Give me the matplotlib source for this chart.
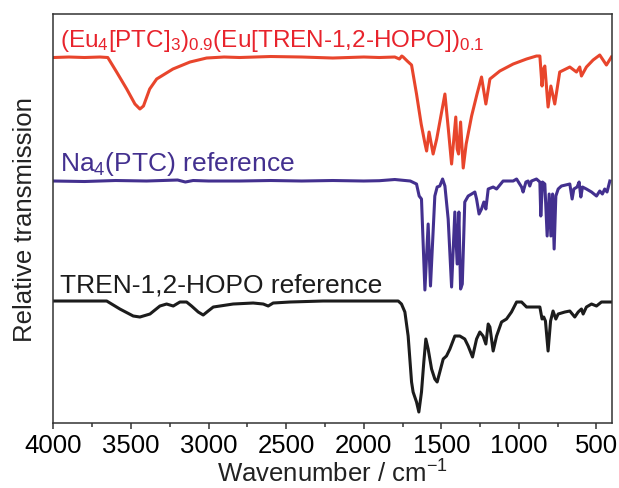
import numpy as np
import matplotlib
matplotlib.use("Agg")
import matplotlib.pyplot as plt

plt.rcParams['font.family'] = ['Liberation Sans', 'DejaVu Sans']
plt.rcParams['mathtext.default'] = 'regular'

# (Eu4[PTC]3)0.9(Eu[TREN-1,2-HOPO])0.1 -- relative to its own baseline
wn_eu = [4000, 3900, 3800, 3700, 3650, 3593, 3528, 3475, 3443, 3420, 3380, 3335, 3230, 3120,
         3013, 2900, 2800, 2600, 2400, 2200, 2000, 1900, 1800, 1770, 1755, 1746, 1720, 1692,
         1660, 1630, 1605, 1595, 1579, 1553, 1530, 1477, 1455, 1434, 1407, 1398, 1389, 1376,
         1359, 1340, 1305, 1270, 1241, 1213, 1187, 1123, 1037, 951, 887, 865, 851, 842, 833,
         812, 794, 769, 737, 672, 629, 608, 597, 565, 522, 479, 436, 404]
t_eu = [-0.5, 0, -0.5, 0, -0.5, -15, -32, -47, -52, -49, -32, -22, -12, -5,
        -1, 0, -0.5, 0.5, 0, -1, 0, -0.5, 0, -2, 1, 0, -4, -8,
        -37, -67, -87, -94, -75, -97, -82, -37, -72, -107, -60, -92, -97, -65,
        -111, -87, -59, -37, -20, -47, -22, -14, -7, -2, 1, 1, -29, -12, -9,
        -50, -29, -47, -15, -10, -15, -10, -19, -10, -3, 2, -8, 0]

# Na4(PTC) reference
wn_na = [4000, 3800, 3600, 3400, 3200, 3150, 3100, 3000, 2800, 2600, 2400, 2200, 2000, 1900,
         1800, 1700, 1660, 1643, 1628, 1606, 1585, 1570, 1542, 1527, 1510, 1492, 1477, 1456,
         1434, 1413, 1398, 1387, 1376, 1365, 1349, 1327, 1305, 1284, 1273, 1257, 1241, 1226,
         1213, 1198, 1166, 1144, 1102, 1037, 1015, 983, 973, 955, 941, 930, 919, 887, 865,
         859, 848, 833, 818, 805, 794, 783, 773, 762, 747, 726, 672, 657, 646, 625, 612, 601,
         590, 565, 532, 500, 479, 462, 447, 432, 414]
t_na = [0, -0.5, 0.5, 0, 1, -1, 0.5, 0, 0, 0.5, 0, 0.5, 0, 0.3,
        1.5, 0, -3, -15, -18, -109, -43, -105, -15, -6, -5, 2, -5, -38,
        -106, -31, -83, -31, -108, -103, -21, -15, -13, -11, -18, -33, -28, -21,
        -28, -8, -6, -8, 0, 0, 2, -6, -11, -1, 0, -5, 0, 2, -1,
        -35, -1, -3, -55, -13, -55, -13, -68, -15, -8, -5, -3, -18, -8, -6, -1, -16,
        -6, -8, -11, -15, -10, -13, -8, -11, 0]

# TREN-1,2-HOPO reference
wn_hopo = [4000, 3800, 3657, 3572, 3486, 3443, 3378, 3314, 3271, 3228, 3185, 3142, 3110, 3067,
           3035, 3003, 2970, 2927, 2842, 2713, 2648, 2616, 2584, 2476, 2263, 1939, 1896, 1778,
           1757, 1735, 1714, 1692, 1682, 1660, 1645, 1628, 1613, 1600, 1585, 1563, 1542, 1527,
           1510, 1488, 1467, 1445, 1413, 1381, 1349, 1327, 1299, 1273, 1252, 1231, 1213, 1198,
           1187, 1166, 1144, 1112, 1080, 1048, 1015, 983, 951, 909, 865, 851, 840, 829, 812,
           796, 780, 762, 747, 704, 672, 640, 618, 597, 586, 565, 532, 500, 468, 436, 404]
t_hopo = [0, 0, 0, -8, -15, -16, -13, -5, -3, -5, -1, -1, -5, -11,
          -14, -10, -6, -5, -3, -2, -3, -5, -2, -1, 0, 0, 0, 0,
          -3, -11, -35, -81, -91, -101, -111, -91, -61, -38, -48, -68, -78, -81,
          -71, -58, -55, -48, -35, -35, -38, -45, -56, -38, -31, -35, -43, -23,
          -26, -50, -35, -21, -18, -11, -1, -1, -6, -6, -6, -18, -16, -20, -50,
          -20, -10, -18, -13, -11, -10, -16, -11, -8, -13, -6, -3, -5, -1, -1, -1]

labels = [r'(Eu$_4$[PTC]$_3$)$_{0.9}$(Eu[TREN-1,2-HOPO])$_{0.1}$',
          r'Na$_4$(PTC) reference',
          'TREN-1,2-HOPO reference']
line_colors = ['#e8452c', '#43308f', '#1c1c1c']
text_colors = ['#e8232c', '#43308f', '#1c1c1c']
label_sizes = [17.5, 19, 19]

fig = plt.figure(figsize=(6.19, 4.89), dpi=100)
ax = fig.add_axes([0.0864, 0.1329, 0.9023, 0.8364])

offsets = [366, 242, 122]
label_y = [377, 253, 132]
spectra = [(wn_eu, t_eu), (wn_na, t_na), (wn_hopo, t_hopo)]
for (wn, t), off, col, tcol, lab, ly, fs in zip(spectra, offsets, line_colors, text_colors,
                                                labels, label_y, label_sizes):
    ax.plot(wn, np.array(t) + off, color=col, lw=2.2, solid_joinstyle='round')
    ax.text(3958, ly, lab, color=tcol, fontsize=fs, va='baseline', ha='left')

ax.set_xlim(4000, 400)
ax.set_ylim(0, 409)
ax.set_yticks([])
ax.set_xticks([4000, 3500, 3000, 2500, 2000, 1500, 1000, 500])
ax.set_xticks(np.arange(3750, 400, -500), minor=True)
ax.tick_params(axis='x', which='major', direction='out', length=4, width=1.1,
               labelsize=18.5, pad=3, color='#333333')
ax.tick_params(axis='x', which='minor', direction='out', length=3, width=1.1, color='#333333')
for s in ax.spines.values():
    s.set_linewidth(1.1)
    s.set_color('#333333')

ax.set_xlabel('Wavenumber / cm$^{-1}$', fontsize=18.5, labelpad=2, color='#222222')
ax.set_ylabel('Relative transmission', fontsize=18.5, labelpad=12, color='#222222')

fig.savefig('out.png', dpi=100)
